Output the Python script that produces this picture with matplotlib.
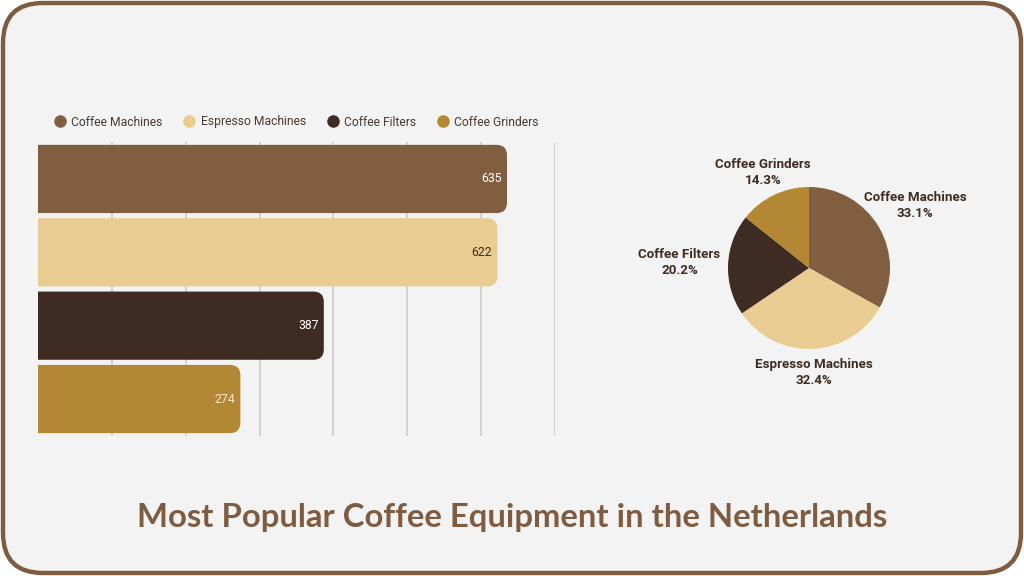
import matplotlib
matplotlib.use("Agg")
import matplotlib.pyplot as plt
import numpy as np
from matplotlib.patches import FancyBboxPatch
from matplotlib.lines import Line2D

categories = ["Coffee Machines", "Espresso Machines", "Coffee Filters", "Coffee Grinders"]
values = [635, 622, 387, 274]
colors = ["#825e41", "#e9cc91", "#3e2c22", "#b38734"]
label_colors = ["#ffffff", "#3e2c22", "#ffffff", "#f6e6c0"]
title = "Most Popular Coffee Equipment in the Netherlands"

W, H = 1024, 576
fig = plt.figure(figsize=(W / 100, H / 100), dpi=100, facecolor="white")

# background frame
bg = fig.add_axes([0, 0, 1, 1])
bg.set_xlim(0, W)
bg.set_ylim(0, H)
bg.axis("off")
bg.add_patch(FancyBboxPatch((3, 3), W - 6, H - 6,
                            boxstyle="round,pad=0,rounding_size=40",
                            facecolor="#f3f3f3", edgecolor="#7f5c40", lw=3.2))

def fax(x0, y0, x1, y1):
    return [x0 / W, 1 - y1 / H, (x1 - x0) / W, (y1 - y0) / H]

# bar chart
ax = fig.add_axes(fax(38, 142.3, 555, 435.7))
ax.set_facecolor("none")
ax.set_xlim(0, 700)
ax.set_ylim(3.5, -0.5)
for s in ax.spines.values():
    s.set_visible(False)
ax.set_xticks(np.arange(100, 701, 100))
ax.set_yticks([])
ax.tick_params(axis="x", length=0, labelbottom=False)
ax.grid(axis="x", color="#cfcfcf", lw=1.3, zorder=0)
ax.set_axisbelow(True)

bars = ax.barh(range(len(values)), values, height=0.93, color=colors)
bw_px = 517 / 700.0
bh_px = 293.4 / 4.0
aspect = (1 / bh_px) / (1 / bw_px)
for b, c in zip(bars, colors):
    x, y = b.get_x(), b.get_y()
    w, h = b.get_width(), b.get_height()
    b.set_visible(False)
    p = FancyBboxPatch((x - 40, y), w + 40, h,
                       boxstyle="round,pad=0,rounding_size=14",
                       mutation_aspect=aspect, facecolor=c, edgecolor="none",
                       zorder=2)
    ax.add_patch(p)
    p.set_clip_path(ax.patch)

for i, (v, lc) in enumerate(zip(values, label_colors)):
    ax.text(v - 7, i, f"{v}", ha="right", va="center", fontsize=8.8,
            color=lc, family="Roboto", zorder=3)

# legend
handles = [Line2D([], [], marker="o", ls="none", markersize=9,
                  markerfacecolor=c, markeredgecolor="none") for c in colors]
fig.legend(handles, categories, loc="center left",
           bbox_to_anchor=(43 / W, 1 - 122 / H), ncol=4, frameon=False,
           prop={"family": "Roboto", "size": 8.7}, labelcolor="#4a3a30",
           handletextpad=0.45, columnspacing=1.7, handlelength=1.0)

# pie chart
cx, cy, r = 809, 268, 81
pax = fig.add_axes(fax(cx - r, cy - r, cx + r, cy + r))
wedges, _ = pax.pie(values, colors=colors, startangle=90, counterclock=False,
                    radius=1.0, wedgeprops={"linewidth": 0})
pax.set_xlim(-1, 1)
pax.set_ylim(-1, 1)
pax.set_aspect("equal")
total = float(sum(values))
for w, name, v in zip(wedges, categories, values):
    mid = np.deg2rad((w.theta1 + w.theta2) / 2)
    d = 1.2 + 0.4 * abs(np.cos(mid)) ** 1.5 + 0.09 * max(0.0, -np.sin(mid))
    pax.text(d * np.cos(mid), d * np.sin(mid), f"{name}\n{100 * v / total:.1f}%",
             ha="center", va="center", fontsize=9.6, fontweight="bold",
             color="#3e2c22", family="Roboto", linespacing=1.3, clip_on=False)

# title
fig.text(0.5, 1 - 518 / H, title, ha="center", va="center", fontsize=23.7,
         fontweight="bold", color="#7f5c40", family="Lato")

fig.savefig("out.png", dpi=100, facecolor="white")
